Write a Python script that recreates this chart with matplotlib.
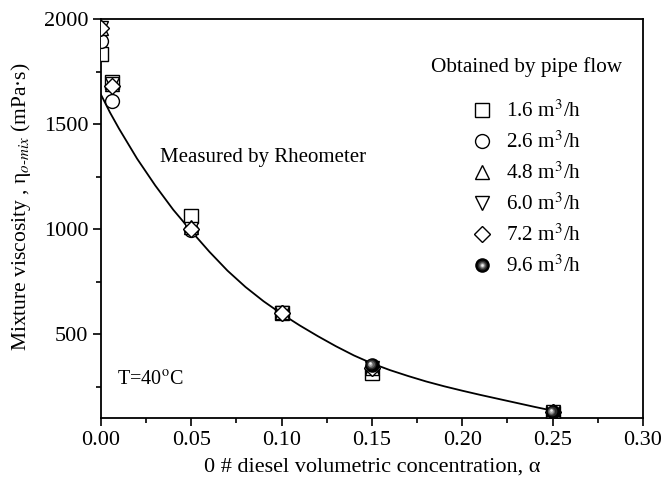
import matplotlib
matplotlib.use("Agg")
import matplotlib.pyplot as plt
from matplotlib.lines import Line2D
from matplotlib.legend_handler import HandlerTuple
from matplotlib.ticker import MultipleLocator, FormatStrFormatter
from matplotlib.transforms import ScaledTranslation

plt.rcParams['font.family'] = ['Liberation Serif', 'DejaVu Serif']
plt.rcParams['mathtext.fontset'] = 'stix'

# Measured data (pipe flow) per flow rate
alpha = [0.0, 0.006, 0.05, 0.10, 0.15, 0.25]
q16 = [1836, 1700, 1064, 600, 314, 125]
q26 = [1895, 1610, 995, 598, 338, 128]
q48 = [1957, 1690, 1010, 603, 340, 135]
q60 = [1957, 1690, 1000, 600, 338, 128]
q72 = [1957, 1680, 998, 600, 338, 128]
alpha96 = [0.15, 0.25]
q96 = [352, 128]

labels = [r'1.6 m$^3$/h', r'2.6 m$^3$/h', r'4.8 m$^3$/h',
          r'6.0 m$^3$/h', r'7.2 m$^3$/h', r'9.6 m$^3$/h']

# Rheometer curve
curve_x = [0.0, 0.005, 0.01, 0.02, 0.03, 0.04, 0.05, 0.06, 0.07, 0.08, 0.09,
           0.10, 0.11, 0.12, 0.13, 0.14, 0.15, 0.16, 0.17, 0.18, 0.19,
           0.20, 0.21, 0.22, 0.23, 0.24, 0.25]
curve_y = [1640, 1555, 1478, 1335, 1208, 1092, 990, 892, 802, 724, 656,
           596, 541, 490, 442, 398, 360, 328, 300, 274, 251,
           230, 210, 191, 172, 153, 135]

fig = plt.figure(figsize=(6.67, 4.78), dpi=100)
ax = fig.add_axes([0.1514, 0.1255, 0.8126, 0.8345])

ax.plot(curve_x, curve_y, color='black', lw=1.3, zorder=2)

mk = dict(ms=10, mfc='white', mec='black', mew=1.0, ls='none', zorder=3)
h1, = ax.plot(alpha, q16, marker='s', **mk)
h2, = ax.plot(alpha, q26, marker='o', **mk)
h3, = ax.plot(alpha, q48, marker='^', **mk)
h4, = ax.plot(alpha, q60, marker='v', **mk)
h5, = ax.plot(alpha, q72, marker='D', **dict(mk, ms=8.5))

# shaded sphere markers (layered circles with an upper-left highlight)
sph_layers = [(10.5, '#000000', 0, 0), (7, '#2a2a2a', -0.5, 0.5),
              (5, '#606060', -0.9, 0.9), (3.2, '#a8a8a8', -1.1, 1.1),
              (1.8, '#eeeeee', -1.2, 1.2)]
sph_handles = []
for s, c, dx, dy in sph_layers:
    tr = ax.transData + ScaledTranslation(dx / 72, dy / 72, fig.dpi_scale_trans)
    ax.plot(alpha96, q96, marker='o', ls='none', ms=s, mfc=c, mec=c,
            mew=0, transform=tr, zorder=4)
    sph_handles.append(Line2D([], [], marker='o', ls='none', ms=s, mfc=c,
                              mec=c, mew=0))

ax.set_xlim(0, 0.30)
ax.set_ylim(100, 2000)
ax.xaxis.set_major_locator(MultipleLocator(0.05))
ax.xaxis.set_minor_locator(MultipleLocator(0.025))
ax.yaxis.set_minor_locator(MultipleLocator(250))
ax.set_yticks([500, 1000, 1500, 2000])
ax.xaxis.set_major_formatter(FormatStrFormatter('%.2f'))
ax.tick_params(which='major', direction='out', length=6, width=1.2,
               labelsize=16, top=False, right=False, pad=3)
ax.tick_params(which='minor', direction='out', length=3.5, width=1.2,
               top=False, right=False)
for sp in ax.spines.values():
    sp.set_linewidth(1.3)

ax.set_xlabel('0 # diesel volumetric concentration, α', fontsize=16,
              labelpad=6)
ax.set_ylabel(r'Mixture viscosity , η$_{o\text{-}mix}$ (mPa·s)',
              fontsize=15.5)
ax.yaxis.set_label_coords(-0.125, 0.53)

ax.text(0.0327, 1343, 'Measured by Rheometer', fontsize=15, va='center')
ax.text(0.0089, 281, r'T=40$^{\mathrm{o}}$C', fontsize=14.5, va='center')

ax.text(0.2355, 1770, 'Obtained by pipe flow', fontsize=15.3,
        ha='center', va='center')

handles = [h1, h2, h3, h4, h5, tuple(sph_handles)]
leg = ax.legend(handles, labels, loc='upper left', frameon=False,
                fontsize=15.3,
                handler_map={tuple: HandlerTuple(ndivide=1, pad=0)},
                labelspacing=0.45, handletextpad=0.55, handlelength=1.2,
                borderpad=0, borderaxespad=0,
                bbox_to_anchor=(0.679, 0.795))

fig.savefig('out.png', dpi=100)
